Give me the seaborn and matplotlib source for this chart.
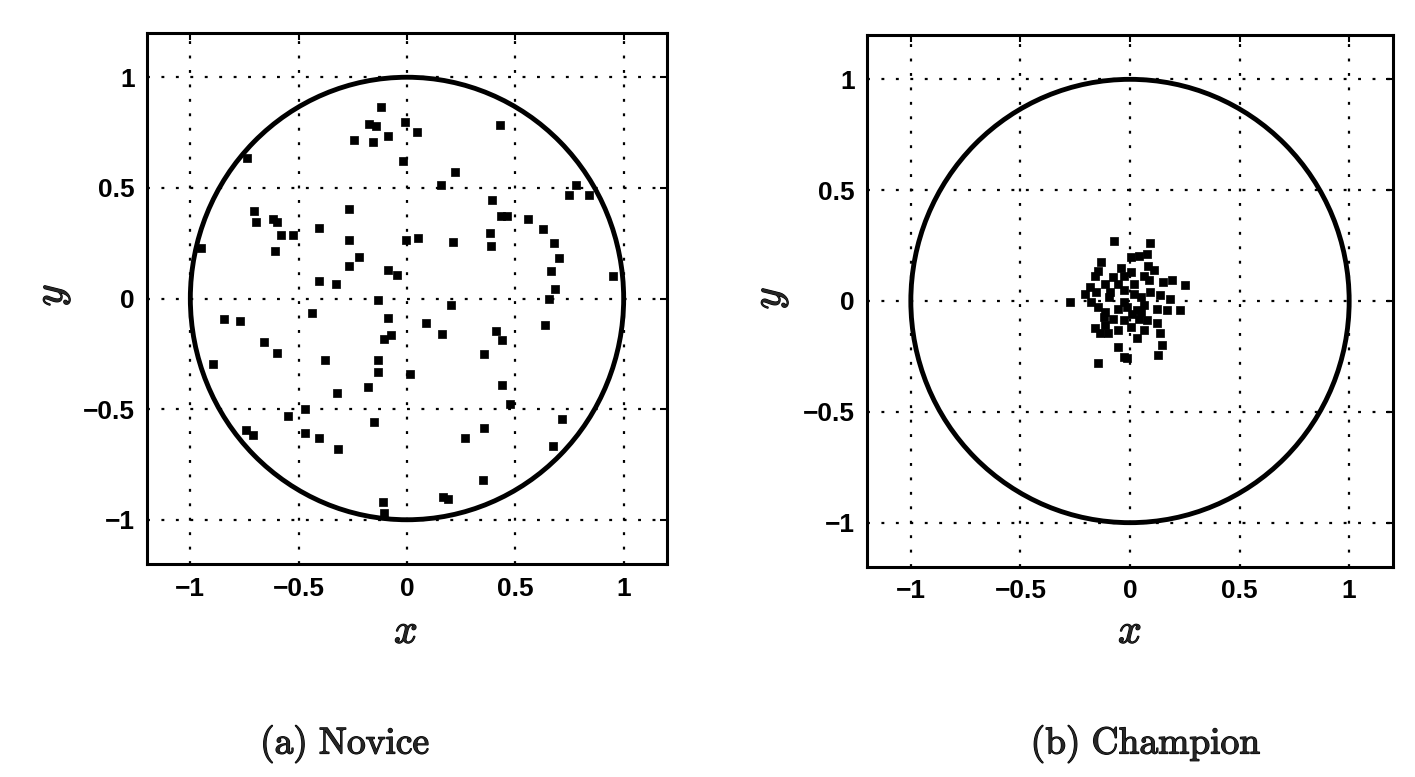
import numpy as np
import pandas as pd
import matplotlib
matplotlib.use("Agg")
import matplotlib.pyplot as plt
import matplotlib.patheffects as pe
import seaborn as sns

# ---------------- data ----------------
novice_x = [-0.12, -0.174, -0.143, -0.008, 0.044, -0.086, -0.244, -0.156, -0.019, 0.429,
            0.222, 0.156, 0.778, 0.747, 0.841, -0.739, 0.39, 0.432, 0.463, 0.557,
            -0.708, -0.698, -0.617, -0.60, -0.582, -0.524, -0.407, -0.267, -0.267, -0.949,
            -0.61, -0.221, -0.267, -0.089, -0.047, -0.404, -0.327, -0.003, 0.051, 0.21,
            0.381, 0.386, 0.627, 0.677, 0.701, 0.666, 0.681, 0.655, 0.953, -0.132,
            0.202, -0.439, -0.843, -0.77, -0.086, 0.086, 0.16, 0.635, 0.409, 0.44,
            -0.104, -0.073, -0.661, -0.599, -0.379, -0.894, 0.355, -0.132, -0.132, 0.012,
            -0.182, -0.325, 0.44, 0.476, -0.547, -0.47, 0.717, -0.151, -0.745, -0.711,
            -0.47, -0.404, 0.355, 0.269, -0.319, 0.673, 0.35, 0.168, 0.188, -0.109,
            -0.104]
novice_y = [0.865, 0.787, 0.778, 0.80, 0.754, 0.736, 0.717, 0.709, 0.623, 0.783,
            0.573, 0.511, 0.511, 0.467, 0.467, 0.636, 0.444, 0.375, 0.371, 0.358,
            0.394, 0.347, 0.358, 0.344, 0.285, 0.285, 0.32, 0.404, 0.265, 0.23,
            0.215, 0.188, 0.148, 0.129, 0.106, 0.079, 0.067, 0.266, 0.273, 0.254,
            0.296, 0.238, 0.313, 0.249, 0.184, 0.126, 0.044, -0.003, 0.103, -0.006,
            -0.031, -0.065, -0.093, -0.10, -0.089, -0.112, -0.159, -0.12, -0.148, -0.187,
            -0.185, -0.167, -0.195, -0.248, -0.279, -0.294, -0.252, -0.277, -0.33, -0.341,
            -0.40, -0.427, -0.389, -0.475, -0.53, -0.498, -0.545, -0.559, -0.594, -0.617,
            -0.607, -0.631, -0.587, -0.631, -0.681, -0.665, -0.821, -0.899, -0.907, -0.919,
            -0.969]

champion_x = [-0.072, 0.093, 0.003, 0.040, 0.078, -0.131, -0.146, -0.079, -0.161, -0.027,
              0.003, 0.063, 0.085, 0.152, 0.19, 0.249, -0.116, -0.057, -0.184, -0.206,
              -0.273, -0.027, 0.018, 0.048, 0.093, 0.137, 0.182, -0.176, -0.146, -0.116,
              -0.057, -0.012, 0.033, 0.063, 0.122, 0.167, 0.227, -0.079, -0.027, 0.04,
              0.003, -0.161, -0.139, -0.101, -0.057, 0.063, 0.122, 0.137, 0.033, -0.057,
              0.145, 0.13, -0.027, -0.012, -0.146, -0.094, -0.154, -0.027, 0.078, -0.116,
              0.01, 0.05, -0.04, 0.11, -0.09, 0.02, 0.08, -0.12]
champion_y = [0.269, 0.260, 0.197, 0.204, 0.212, 0.175, 0.137, 0.107, 0.115, 0.115,
              0.13, 0.115, 0.093, 0.085, 0.093, 0.07, 0.078, 0.078, 0.063, 0.033,
              -0.004, 0.048, 0.033, 0.018, 0.04, 0.025, 0.01, -0.004, -0.027, -0.049,
              -0.034, -0.027, -0.042, -0.019, -0.034, -0.042, -0.042, -0.079, -0.087, -0.079,
              -0.116, -0.124, -0.146, -0.146, -0.131, -0.131, -0.101, -0.146, -0.169, -0.206,
              -0.199, -0.243, -0.251, -0.258, -0.281, 0.018, 0.04, -0.004, -0.087, -0.109,
              -0.06, -0.05, 0.15, 0.14, 0.04, 0.075, 0.16, -0.07]

tick_values = [-1, -0.5, 0, 0.5, 1]
tick_labels = ["\u22121", "\u22120.5", "0", "0.5", "1"]
captions = ["(a)\\ Novice", "(b)\\ Champion"]

# ---------------- style ----------------
sns.set_style("white")
plt.rcParams["font.family"] = ["Liberation Sans", "DejaVu Sans"]
plt.rcParams["mathtext.fontset"] = "cm"

fig = plt.figure(figsize=(14.15, 7.77), dpi=100)

W, H = 1415, 777
def rect(x0, y0, x1, y1):
    return [x0 / W, 1 - y1 / H, (x1 - x0) / W, (y1 - y0) / H]

ax_a = fig.add_axes(rect(147, 33, 667, 564))
ax_b = fig.add_axes(rect(867, 35, 1393, 567))

panels = [(ax_a, novice_x, novice_y), (ax_b, champion_x, champion_y)]
bold = [pe.withStroke(linewidth=0.9, foreground="black")]

for ax, xs, ys in panels:
    df = pd.DataFrame({"x": xs, "y": ys})
    ax.set_xlim(-1.2, 1.2)
    ax.set_ylim(-1.2, 1.2)
    ax.set_xticks(tick_values)
    ax.set_yticks(tick_values)
    ax.set_xticklabels(tick_labels)
    ax.set_yticklabels(tick_labels)
    # dotted MATLAB-like grid
    for v in tick_values:
        ax.axvline(v, color="black", lw=1.6, dashes=(1.3, 5.2), zorder=1)
        ax.axhline(v, color="black", lw=1.6, dashes=(1.3, 5.2), zorder=1)
    ax.add_patch(plt.Circle((0, 0), 1.0, fill=False, color="black", lw=3.5, zorder=2))
    sns.scatterplot(data=df, x="x", y="y", ax=ax, marker="s", s=30, color="black",
                    edgecolor="black", linewidth=0.5, zorder=3)
    ax.tick_params(direction="in", length=5, width=1.5, top=True, right=True,
                   labelsize=19, pad=9, colors="black")
    for lab in ax.get_xticklabels() + ax.get_yticklabels():
        lab.set_fontweight("bold")
    for sp in ax.spines.values():
        sp.set_visible(True)
        sp.set_color("black")
        sp.set_linewidth(2.2)
    ax.set_xlabel("")
    ax.set_ylabel("")

# axis labels
for (xp, yp, txt, rot) in [(406, 632, r"$x$", 0), (52, 295, r"$y$", 90),
                            (1130, 632, r"$x$", 0), (770, 298, r"$y$", 90)]:
    fig.text(xp / W, 1 - yp / H, txt, fontsize=30, ha="center", va="center",
             rotation=rot, path_effects=bold)

# captions
fig.text(345 / W, 1 - 744 / H, r"$\mathrm{" + captions[0] + "}$", fontsize=27,
         ha="center", va="center", path_effects=bold)
fig.text(1146 / W, 1 - 744 / H, r"$\mathrm{" + captions[1] + "}$", fontsize=27,
         ha="center", va="center", path_effects=bold)

fig.savefig("out.png", dpi=100, facecolor="white")
